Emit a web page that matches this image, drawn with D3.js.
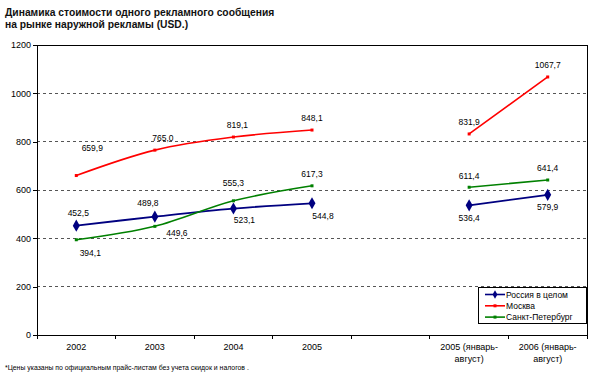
<!DOCTYPE html>
<html><head><meta charset="utf-8">
<script src="https://cdn.jsdelivr.net/npm/d3@7"></script>
<style>
html,body{margin:0;padding:0;background:#fff;}
svg{display:block;font-family:"Liberation Sans",Arial,sans-serif;}
</style></head>
<body><svg id="c" width="600" height="376"></svg>
<script>
const categories = ["2002","2003","2004","2005","","2005 (январь-|август)","2006 (январь-|август)"];
const russia = [452.5, 489.8, 523.1, 544.8, null, 536.4, 579.9];
const moscow = [659.9, 765.0, 819.1, 848.1, null, 831.9, 1067.7];
const spb    = [394.1, 449.6, 555.3, 617.3, null, 611.4, 641.4];
const seriesNames = ["Россия в целом","Москва","Санкт-Петербург"];
const yTicks = [0,200,400,600,800,1000,1200];
const titleLines = ["Динамика стоимости одного рекламного сообщения","на рынке наружной рекламы (USD.)"];
const footnote = "*Цены указаны по официальным прайс-листам без учета скидок и налогов .";

const svg = d3.select("#c");
const L = 37, R = 587, T = 45, B = 335;

const x = d3.scaleBand().domain(d3.range(categories.length)).range([L, R]).padding(0);
const y = d3.scaleLinear().domain([0, 1200]).range([B, T]);

// title
svg.append("g").selectAll("text").data(titleLines).join("text")
  .attr("x", 5).attr("y", (d,i) => 15.5 + i*12.5)
  .attr("font-size", "10.3px").attr("font-weight", "bold").attr("fill", "#111")
  .text(d => d);

// gridlines
svg.append("g").selectAll("line").data(yTicks.filter(v => v > 0 && v < 1200)).join("line")
  .attr("x1", L).attr("x2", R).attr("y1", d => y(d)).attr("y2", d => y(d))
  .attr("stroke", "#555").attr("stroke-width", 1).attr("stroke-dasharray", "3,3")
  .attr("shape-rendering", "crispEdges");

// plot border
svg.append("rect").attr("x", L).attr("y", T).attr("width", R-L).attr("height", B-T)
  .attr("fill", "none").attr("stroke", "#000").attr("stroke-width", 1)
  .attr("shape-rendering", "crispEdges");

// y axis
const yAxis = svg.append("g").attr("transform", `translate(${L},0)`)
  .call(d3.axisLeft(y).tickValues(yTicks).tickSize(4).tickPadding(2).tickFormat(d3.format("d")));
yAxis.select(".domain").remove();
yAxis.selectAll("line").attr("stroke", "#000").attr("shape-rendering", "crispEdges");
yAxis.selectAll("text").attr("font-size", "9px").attr("fill", "#000").attr("font-family", "Liberation Sans, Arial, sans-serif");

// x axis labels
const xAxis = svg.append("g").attr("transform", `translate(0,${B})`)
  .call(d3.axisBottom(x).tickSize(0).tickPadding(0).tickFormat(() => ""));
xAxis.select(".domain").remove();
xAxis.selectAll("text").remove();
xAxis.selectAll(".tick").each(function(d) {
  const lines = categories[d].split("|");
  const t = d3.select(this).append("text").attr("fill", "#000")
    .attr("font-size", "9px").attr("text-anchor", "middle")
    .attr("font-family", "Liberation Sans, Arial, sans-serif");
  lines.forEach((s, i) => t.append("tspan").attr("x", 0).attr("y", 14.5 + i*12.5).text(s));
});
// boundary ticks
svg.append("g").selectAll("line").data(d3.range(categories.length + 1)).join("line")
  .attr("x1", i => L + i*x.step()).attr("x2", i => L + i*x.step())
  .attr("y1", B).attr("y2", B + 4).attr("stroke", "#000").attr("shape-rendering", "crispEdges");

const cx = i => x(i) + x.bandwidth()/2;
const series = [
  {name: seriesNames[0], values: russia, color: "#000080", marker: "diamond"},
  {name: seriesNames[1], values: moscow, color: "#ff0000", marker: "square"},
  {name: seriesNames[2], values: spb, color: "#008000", marker: "square"}
];
// label placement tweaks [dx, dy] relative to point (text centre)
const labelOffsets = [
  [[2,-12.5],[-7,-13.5],[11,11.5],[11,12.5],null,[0,12.5],[0,12]],
  [[16,-27.5],[8,-12],[4,-12],[0,-12],null,[0,-12],[0,-12]],
  [[14,13],[22,6.5],[0,-18],[0,-12],null,[0,-11],[0,-12]]
];

const line = d3.line().defined(d => d[1] != null)
  .x(d => cx(d[0])).y(d => y(d[1])).curve(d3.curveCatmullRom.alpha(0.5));

series.forEach((s, si) => {
  const pts = s.values.map((v, i) => [i, v]);
  svg.append("path").datum(pts).attr("d", line)
    .attr("fill", "none").attr("stroke", s.color).attr("stroke-width", si === 0 ? 1.8 : 1.6);
  const valid = pts.filter(d => d[1] != null);
  if (s.marker === "diamond") {
    svg.append("g").selectAll("path").data(valid).join("path")
      .attr("transform", d => `translate(${cx(d[0])},${y(d[1])})`)
      .attr("d", d3.symbol(d3.symbolDiamond, 42)).attr("fill", s.color);
  } else {
    svg.append("g").selectAll("rect").data(valid).join("rect")
      .attr("x", d => cx(d[0]) - 1.5).attr("y", d => y(d[1]) - 1.5)
      .attr("width", 3).attr("height", 3).attr("fill", s.color);
  }
  svg.append("g").selectAll("text").data(valid).join("text")
    .attr("x", d => cx(d[0]) + labelOffsets[si][d[0]][0])
    .attr("y", d => y(d[1]) + labelOffsets[si][d[0]][1] + 3)
    .attr("text-anchor", "middle").attr("font-size", "8.5px").attr("fill", "#000")
    .text(d => d3.format(".1f")(d[1]).replace(".", ","));
});

// legend
const lg = svg.append("g");
lg.append("rect").attr("x", 478.5).attr("y", 287.5).attr("width", 108).attr("height", 36)
  .attr("fill", "#fff").attr("stroke", "#000").attr("stroke-width", 1);
series.forEach((s, i) => {
  const yy = 294.5 + i*11.3;
  lg.append("line").attr("x1", 485).attr("x2", 505).attr("y1", yy).attr("y2", yy)
    .attr("stroke", s.color).attr("stroke-width", 1.6);
  if (s.marker === "diamond") {
    lg.append("path").attr("transform", `translate(495,${yy})`)
      .attr("d", d3.symbol(d3.symbolDiamond, 20)).attr("fill", s.color);
  } else {
    lg.append("rect").attr("x", 493.5).attr("y", yy - 1.5).attr("width", 3).attr("height", 3).attr("fill", s.color);
  }
  lg.append("text").attr("x", 506).attr("y", yy + 3).attr("font-size", "8.5px").attr("fill", "#000").text(s.name);
});

// footnote
svg.append("text").attr("x", 5).attr("y", 370).attr("font-size", "6.9px").attr("fill", "#000").text(footnote);
</script>
</body></html>
